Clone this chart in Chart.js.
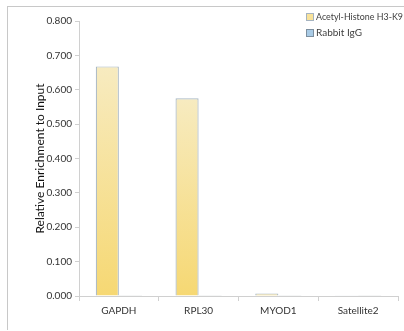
<!DOCTYPE html>
<html><head><meta charset="utf-8">
<script src="https://cdn.jsdelivr.net/npm/chart.js@4"></script>
<style>
html,body{margin:0;padding:0;background:#fff;}
#wrap{position:relative;width:404px;height:331px;}
#frame{position:absolute;left:7px;top:6px;width:397px;height:324px;border-left:1px solid #c8c8c8;border-top:1px solid #c8c8c8;box-sizing:border-box;}
canvas{position:absolute;left:0;top:0;}
</style></head>
<body><div id="wrap"><div id="frame"></div><canvas id="c" width="404" height="331"></canvas></div>
<script>
const categories = ["GAPDH", "RPL30", "MYOD1", "Satellite2"];
const seriesNames = ["Acetyl-Histone H3-K9", "Rabbit IgG"];
const acetylValues = [0.668, 0.575, 0.007, 0.001];
const iggValues = [0.002, 0.002, 0.002, 0.002];
const yTicks = [0, 0.1, 0.2, 0.3, 0.4, 0.5, 0.6, 0.7, 0.8];

const font = "Lato, 'Open Sans', sans-serif";

function yellowGrad(ctx) {
  const chart = ctx.chart;
  const area = chart.chartArea;
  if (!area || ctx.raw === undefined) return '#f7dc7a';
  const ys = chart.scales.y;
  const top = ys.getPixelForValue(ctx.raw);
  const bottom = ys.getPixelForValue(0);
  const g = chart.ctx.createLinearGradient(0, top, 0, Math.max(bottom, top + 1));
  g.addColorStop(0, '#f7ebc0');
  g.addColorStop(1, '#f6d873');
  return g;
}

const legendPlugin = {
  id: 'customLegend',
  afterDraw(chart) {
    const c = chart.ctx;
    const items = [
      {label: seriesNames[0], fill: '#f8e29a', stroke: '#a5b3c0'},
      {label: seriesNames[1], fill: '#a9cbe6', stroke: '#7d8f9f'}
    ];
    c.save();
    c.font = "10px " + font;
    c.textBaseline = 'middle';
    items.forEach((it, i) => {
      const y = 17 + i * 16;
      c.fillStyle = it.fill;
      c.fillRect(306.5, y - 3.5, 7, 7);
      c.strokeStyle = it.stroke;
      c.lineWidth = 1;
      c.strokeRect(306.5, y - 3.5, 7, 7);
      c.fillStyle = '#404040';
      c.fillText(it.label, 316, y, 87);
    });
    c.restore();
  }
};

new Chart(document.getElementById('c'), {
  type: 'bar',
  data: {
    labels: categories,
    datasets: [
      {label: seriesNames[0], data: acetylValues, backgroundColor: yellowGrad, borderColor: '#a9b8c4', borderWidth: 1.2, borderSkipped: 'bottom'},
      {label: seriesNames[1], data: iggValues, backgroundColor: '#a9cbe6', borderColor: '#5f6b75', borderWidth: 1, borderSkipped: 'bottom'}
    ]
  },
  options: {
    responsive: false,
    animation: false,
    layout: {padding: {left: 33, right: 6, top: 21, bottom: 10}},
    plugins: {legend: {display: false}, tooltip: {enabled: false}},
    datasets: {bar: {barPercentage: 1, categoryPercentage: 0.58}},
    scales: {
      x: {
        grid: {display: true, drawOnChartArea: false, drawTicks: true, tickLength: 5, color: '#d0d0d0', offset: true},
        border: {color: '#d0d0d0'},
        ticks: {color: '#333', font: {family: font, size: 10}, padding: 4}
      },
      y: {
        min: 0, max: 0.8,
        afterBuildTicks(axis) { axis.ticks = yTicks.map(v => ({value: v})); },
        afterFit(axis) { axis.width = 46; },
        grid: {display: true, drawOnChartArea: false, drawTicks: true, tickLength: 4, color: '#d0d0d0'},
        border: {color: '#d0d0d0'},
        ticks: {color: '#333', font: {family: font, size: 10}, padding: 3, callback: v => Number(v).toFixed(3)},
        title: {display: true, text: 'Relative Enrichment to Input', color: '#111', font: {family: font, size: 12}, padding: {top: 0, bottom: 4}}
      }
    }
  },
  plugins: [legendPlugin]
});
</script></body></html>
